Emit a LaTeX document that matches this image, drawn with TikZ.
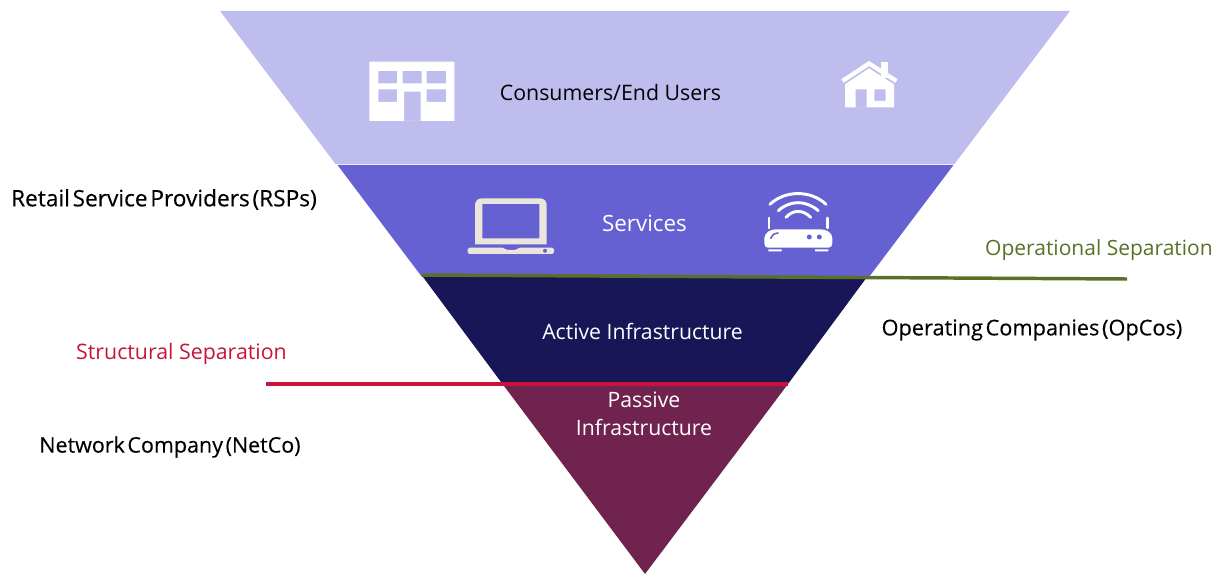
\documentclass[tikz,border=0pt]{standalone}
\usepackage{fontspec}
\setmainfont{Open Sans}
\newfontfamily\blkfont[FakeBold=0.25]{Open Sans}
\definecolor{cons}{HTML}{BFBDED}
\definecolor{serv}{HTML}{6661D3}
\definecolor{actv}{HTML}{191658}
\definecolor{pasv}{HTML}{70234F}
\definecolor{redl}{HTML}{C8133C}
\definecolor{grnl}{HTML}{5A7029}
\definecolor{lapt}{HTML}{EAE6DC}
\newcommand{\tgap}{\hspace{0.12em}}
\newcommand{\fsz}[1]{\fontsize{#1pt}{20pt}\selectfont}
\tikzset{
  lbl/.style={inner sep=0pt,align=center},
  wht/.style={lbl,text=white},
  blk/.style={lbl,text=black},
  band/.style={draw=none},
  sep/.style={line width=2.6pt}
}
\begin{document}
\begin{tikzpicture}[x=0.75pt,y=-0.75pt]
\useasboundingbox (0,0) rectangle (1222,574);
% bands
\fill[cons,band] (220,11) -- (1070,11) -- (954.5,164) -- (335.5,164) -- cycle;
\fill[serv,band] (337.5,165) -- (953.5,165) -- (869,277) -- (422,277) -- cycle;
\fill[actv,band] (423,277) -- (867,277) -- (788,384) -- (502.5,384) -- cycle;
\fill[pasv,band] (502.5,384) -- (788,384) -- (645,574) -- cycle;
% building
\fill[white,even odd rule] (369.3,61.7) rectangle (454.3,121)
  (378.3,71) rectangle (397,83.3) (402.7,71) rectangle (421.7,83.3) (426.7,71) rectangle (446,83.3)
  (378.3,89.3) rectangle (397,102) (426.7,89.3) rectangle (446,102)
  (404,91.7) rectangle (420.7,121);
% house
\fill[white] (881.3,62.3) rectangle (888.3,78);
\draw[white,line width=3.2pt] (842.5,81) -- (869,63.5) -- (896.5,81);
\fill[white,even odd rule] (845,84.3) -- (869,68.3) -- (894,84.3) -- (894,107.3) -- (845,107.3) -- cycle
  (855.7,89.3) rectangle (866.7,107.3) (874.3,89.3) rectangle (885.7,101);
% laptop
\fill[lapt,even odd rule] (475,244.3) -- (475,205.3) .. controls (475,201) and (478,198.3) .. (482,198.3) -- (539.7,198.3) .. controls (544,198.3) and (546.7,201) .. (546.7,205.3) -- (546.7,244.3) -- cycle
  (482.3,204) rectangle (539.3,238.3);
\fill[lapt,rounded corners=1.2pt] (467.7,247.7) -- (504,247.7) -- (506,250) -- (516.3,250) -- (518.3,247.7) -- (554,247.7) -- (554,254) -- (467.7,254) -- cycle;
\fill[serv] (545,250.8) circle[radius=2];
% router
\begin{scope}[white,line width=2.2pt,line cap=round]
\draw (770,204.3) .. controls (785,190) and (811,190) .. (826,204.3);
\draw (778.3,210.7) .. controls (790,200) and (806,200) .. (818.3,210.7);
\draw (786,217.3) .. controls (793,209.5) and (803,209.5) .. (810.7,217.3);
\draw (769,218) -- (769,228);
\draw (827.7,218) -- (827.7,228);
\end{scope}
\fill[white] (768,247.7) .. controls (765.5,247.7) and (764.3,246) .. (764.3,243) -- (764.3,238) .. controls (765,232) and (771,229.3) .. (776,229.3) -- (820,229.3) .. controls (826,229.3) and (832,232) .. (832.3,238) -- (832.3,243) .. controls (832.3,246) and (831,247.7) .. (828.5,247.7) -- cycle;
\draw[serv,line width=1.2pt,line cap=round] (770.7,238.3) .. controls (771.5,235.5) and (774,233.5) .. (778,233);
\fill[serv] (809.3,237) circle[radius=2.5] (819.3,237) circle[radius=2.5];
\fill[white] (768.3,249.5) rectangle (781.7,251.5) (815,249.5) rectangle (828.3,251.5);
% labels
\node[lbl,font=\fsz{16}] (consumers) at (610.5,92.5) {Consumers/End Users};
\node[wht,font=\fsz{16.8}] (services) at (644.5,223) {Services};
\node[wht,font=\fsz{15.9}] (active) at (642.5,331.5) {Active Infrastructure};
\node[wht,font=\fsz{15.9}] (passive) at (644,414) {Passive\\[1pt]Infrastructure};
\node[blk,font=\fsz{17}\blkfont] (rsp) at (164,199.5) {Retail\tgap Service\tgap Providers\tgap (RSPs)};
\node[blk,font=\fsz{16.3}\blkfont] (opco) at (1032,330) {Operating\tgap Companies\tgap (OpCos)};
\node[blk,font=\fsz{16.1}\blkfont] (netco) at (170,447) {Network\tgap Company\tgap (NetCo)};
\node[lbl,text=grnl,font=\fsz{15.75}] (opsep) at (1099,250) {Operational Separation};
\node[lbl,text=redl,font=\fsz{16}] (strsep) at (181.5,353.5) {Structural Separation};
% separators
\coordinate (gl) at (422,275);
\coordinate (gr) at (1127,279);
\coordinate (rl) at (266,384);
\coordinate (rr) at (788,384);
\draw[sep,grnl] (gl) -- (gr);
\draw[sep,redl] (rl) -- (rr);
\end{tikzpicture}
\end{document}
